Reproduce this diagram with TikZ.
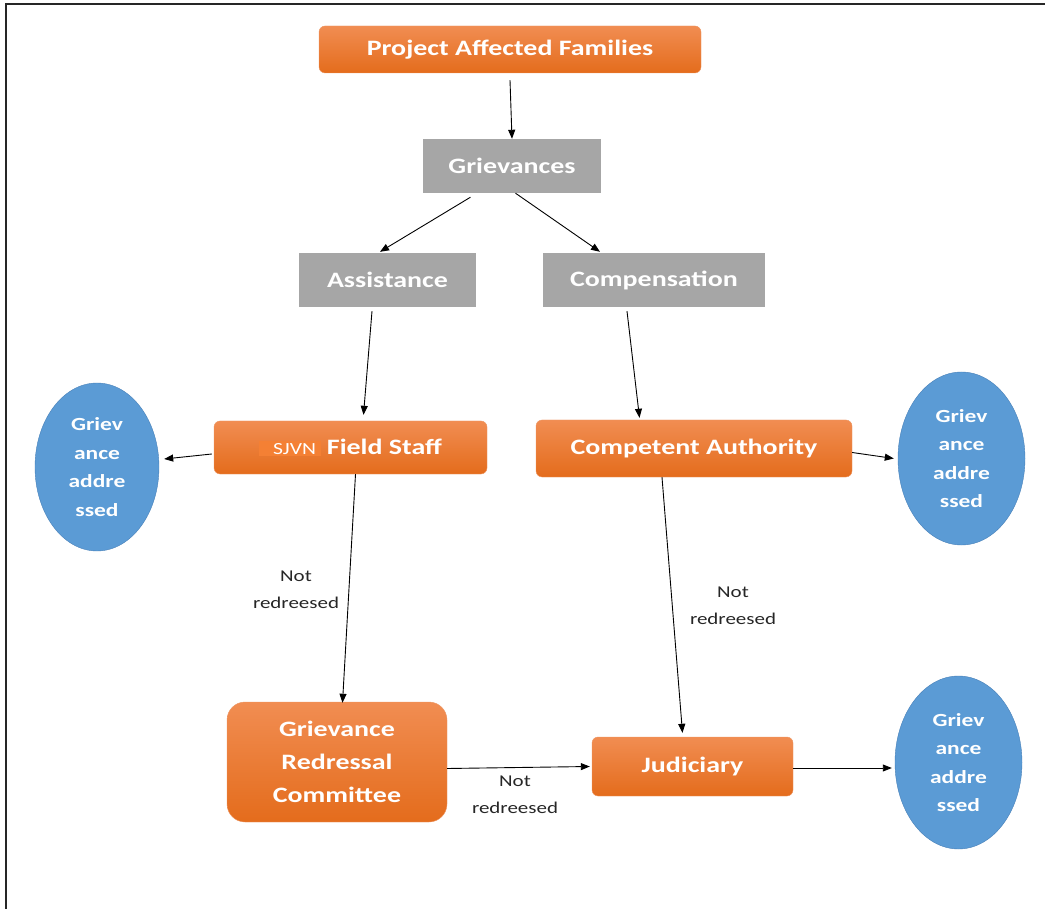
\documentclass[tikz,border=0pt]{standalone}
\usepackage{fontspec}
\setmainfont{Carlito}[FakeStretch=1.27]
\usetikzlibrary{arrows.meta,shapes.geometric}

\definecolor{orgtop}{RGB}{241,141,82}
\definecolor{orgbot}{RGB}{228,108,28}
\definecolor{orgline}{RGB}{236,150,100}
\definecolor{sjvnbg}{RGB}{244,128,52}
\definecolor{greyfill}{RGB}{166,166,166}
\definecolor{bluefill}{RGB}{91,155,213}
\definecolor{blueline}{RGB}{72,128,184}

\begin{document}
\begin{tikzpicture}[x=1pt, y=-1pt,
    orangebox/.style={rounded corners=6pt, top color=orgtop, bottom color=orgbot,
      draw=orgline, text=white, align=center, inner sep=0pt,
      font=\fontsize{22}{33}\selectfont\bfseries},
    greybox/.style={fill=greyfill, text=white, inner sep=0pt,
      font=\fontsize{22}{33}\selectfont\bfseries},
    doneell/.style={ellipse, fill=bluefill, draw=blueline, text=white, align=center,
      inner sep=0pt, font=\fontsize{18.5}{28.5}\selectfont\bfseries},
    arr/.style={-{Triangle[length=9pt,width=7pt]}, line width=0.9pt},
    note/.style={align=center, text=black!85, font=\fontsize{16.5}{27}\selectfont}]
    \useasboundingbox (0,0) rectangle (1045,909);
    % frame, cut at right and bottom
    \draw[line width=1.5pt, black!85] (6,909) -- (6,4) -- (1045,4);

    % boxes
    \node[orangebox, minimum width=382pt, minimum height=47pt] (paf) at (510,49.5) {Project Affected Families};
    \node[greybox, minimum width=178pt, minimum height=54pt] (grv) at (512,166) {Grievances};
    \node[greybox, minimum width=177pt, minimum height=54pt] (asst) at (387.5,280) {Assistance};
    \node[greybox, minimum width=222pt, minimum height=54pt] (comp) at (654,280) {Compensation};
    \node[orangebox, minimum width=273pt, minimum height=53pt] (fs) at (350.5,447.5)
      {{\fontsize{17}{20}\selectfont\mdseries\setlength\fboxsep{2pt}\colorbox{sjvnbg}{\hspace{12pt}SJVN\hspace{3pt}}}\hspace{6pt}Field Staff};
    \node[orangebox, minimum width=316pt, minimum height=57pt] (ca) at (694,448.5) {Competent Authority};
    \node[orangebox, rounded corners=18pt, minimum width=220pt, minimum height=120pt] (grc) at (337,762)
      {Grievance\\Redressal\\Committee};
    \node[orangebox, minimum width=201pt, minimum height=59pt] (jud) at (692.5,766.5) {Judiciary};

    % grievance addressed
    \node[doneell, minimum width=124pt, minimum height=168pt] (el1) at (97,467) {Griev\\ance\\addre\\ssed};
    \node[doneell, minimum width=127pt, minimum height=173pt] (el2) at (961.5,458.5) {Griev\\ance\\addre\\ssed};
    \node[doneell, minimum width=127pt, minimum height=173pt] (el3) at (958.5,762.5) {Griev\\ance\\addre\\ssed};

    % connectors
    \draw[arr] ([yshift=-7pt]paf.south) -- (grv.north);
    \draw[arr] ([xshift=-41.5pt,yshift=-4pt]grv.south) -- ([xshift=-7.5pt,yshift=1pt]asst.north);
    \draw[arr] ([xshift=3.5pt]grv.south) -- ([xshift=-54pt,yshift=1pt]comp.north);
    \draw[arr] ([xshift=-15.5pt,yshift=-4pt]asst.south) -- ([xshift=13pt,yshift=6pt]fs.north);
    \draw[arr] ([xshift=-27pt,yshift=-4pt]comp.south) -- ([xshift=-54.5pt,yshift=2pt]ca.north);
    \draw[arr] ([xshift=-2pt,yshift=-6.5pt]fs.west) -- ([xshift=5pt,yshift=8pt]el1.east);
    \draw[arr] ([yshift=-4pt]ca.east) -- ([xshift=-4pt]el2.west);
    \draw[arr] ([xshift=5pt]fs.south) -- ([xshift=5.5pt,yshift=-1pt]grc.north);
    \draw[arr] ([xshift=-32pt]ca.south) -- ([xshift=-10pt,yshift=4pt]jud.north);
    \draw[arr] ([yshift=-6.5pt]grc.east) -- ([xshift=-2pt]jud.west);
    \draw[arr] ([yshift=-1.5pt]jud.east) -- ([xshift=-3pt,yshift=-5.5pt]el3.west);

    % labels
    \node[note] (nr1) at (296,590) {Not\\redreesed};
    \node[note] (nr2) at (733,606) {Not\\redreesed};
    \node[note] (nr3) at (515,795) {Not\\redreesed};
\end{tikzpicture}
\end{document}
